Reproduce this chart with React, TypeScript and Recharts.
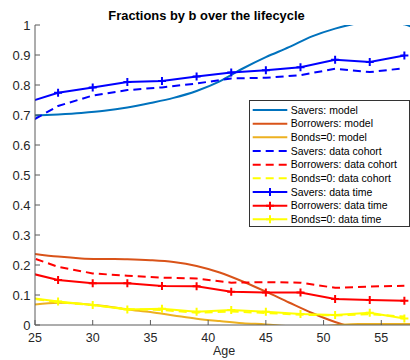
import React from 'react';
import { LineChart, Line, XAxis, YAxis, Legend, Customized } from 'recharts';

// ---------- data ----------
const modelAges = [25, 27, 29, 31, 33, 35, 37, 39, 41, 43, 45, 47, 49, 51, 53, 55, 57, 59];
const saversModel = [0.698, 0.702, 0.707, 0.714, 0.725, 0.74, 0.757, 0.78, 0.812, 0.855, 0.893, 0.926, 0.962, 0.988, 1.006, 1.013, 1.002, 0.97];
const borrowersModel = [0.237, 0.228, 0.222, 0.22, 0.219, 0.216, 0.21, 0.197, 0.175, 0.145, 0.111, 0.075, 0.04, 0.01, -0.012, -0.02, -0.004, 0.03];
const bondsModel = [0.068, 0.074, 0.071, 0.063, 0.052, 0.043, 0.032, 0.021, 0.013, 0.006, 0.002, -0.004, -0.006, -0.001, 0.003, 0.003, 0.003, 0.003];

const dataAges = [24, 27, 30, 33, 36, 39, 42, 45, 48, 51, 54, 57];
const saversCohort = [0.665, 0.73, 0.765, 0.783, 0.792, 0.805, 0.822, 0.824, 0.833, 0.854, 0.843, 0.856];
const borrowersCohort = [0.234, 0.194, 0.172, 0.164, 0.158, 0.155, 0.141, 0.143, 0.141, 0.124, 0.128, 0.131];
const bondsCohort = [0.092, 0.076, 0.066, 0.053, 0.05, 0.041, 0.045, 0.04, 0.034, 0.032, 0.036, 0.028];
const saversTime = [0.738, 0.774, 0.792, 0.81, 0.813, 0.828, 0.842, 0.849, 0.859, 0.884, 0.877, 0.898];
const borrowersTime = [0.178, 0.15, 0.139, 0.139, 0.13, 0.129, 0.111, 0.108, 0.108, 0.087, 0.083, 0.081];
const bondsTime = [0.094, 0.078, 0.067, 0.052, 0.054, 0.044, 0.05, 0.044, 0.037, 0.033, 0.041, 0.022];

const xTicks = [25, 30, 35, 40, 45, 50, 55];
const yTicks = [0, 0.1, 0.2, 0.3, 0.4, 0.5, 0.6, 0.7, 0.8, 0.9, 1];
const titleText = 'Fractions by b over the lifecycle';
const xLabelText = 'Age';

type Kind = 'model' | 'cohort' | 'time';
const seriesNames = [
  'Savers: model', 'Borrowers: model', 'Bonds=0: model',
  'Savers: data cohort', 'Borrowers: data cohort', 'Bonds=0: data cohort',
  'Savers: data time', 'Borrowers: data time', 'Bonds=0: data time',
];
const seriesColors = ['#0072BD', '#D95319', '#EDB120', '#0000FF', '#FF0000', '#FFFF00', '#0000FF', '#FF0000', '#FFFF00'];
const seriesKinds: Kind[] = ['model', 'model', 'model', 'cohort', 'cohort', 'cohort', 'time', 'time', 'time'];
const seriesAges = [modelAges, modelAges, modelAges, dataAges, dataAges, dataAges, dataAges, dataAges, dataAges];
const seriesValues = [saversModel, borrowersModel, bondsModel, saversCohort, borrowersCohort, bondsCohort, saversTime, borrowersTime, bondsTime];

const series = seriesNames.map((name, i) => ({
  name,
  color: seriesColors[i],
  kind: seriesKinds[i],
  data: seriesAges[i].map((x, j) => ({ x, y: seriesValues[i][j] })),
}));

// ---------- styles ----------
const FONT = '"Liberation Sans", Arial, Helvetica, sans-serif';
const AXIS = '#5a5a5a';
const TEXT = '#262626';
const CHART_W = 470;
const CHART_H = 360;
const MARGIN = { top: 25, right: 31, bottom: 0, left: 0 };
const Y_AXIS_W = 35;
const X_AXIS_H = 35;
const PLOT_LEFT = MARGIN.left + Y_AXIS_W;
const PLOT_TOP = MARGIN.top;
const PLOT_BOTTOM = CHART_H - MARGIN.bottom - X_AXIS_H;
const DASH = '8 5';

const fmtY = (v: number) => (v === 0 ? '0' : v === 1 ? '1' : v.toFixed(1));

const YTick = (p: any) => {
  const y = p.y;
  return (
    <g>
      <line x1={PLOT_LEFT} x2={PLOT_LEFT + 5} y1={y} y2={y} stroke={AXIS} strokeWidth={1} />
      <text x={PLOT_LEFT - 4.5} y={y} dy="0.36em" textAnchor="end" fontFamily={FONT} fontSize={13} fill={TEXT}>
        {fmtY(p.payload.value)}
      </text>
    </g>
  );
};

const XTickBottom = (p: any) => {
  const x = p.x;
  return (
    <g>
      <line x1={x} x2={x} y1={PLOT_BOTTOM} y2={PLOT_BOTTOM - 5} stroke={AXIS} strokeWidth={1} />
      <text x={x} y={PLOT_BOTTOM + 17} textAnchor="middle" fontFamily={FONT} fontSize={12.5} fill={TEXT}>
        {p.payload.value}
      </text>
    </g>
  );
};

const XTickTop = (p: any) => {
  const x = p.x;
  return <line x1={x} x2={x} y1={PLOT_TOP} y2={PLOT_TOP + 5} stroke={AXIS} strokeWidth={1} />;
};

const makePlus = (color: string) => (p: any) => {
  const { cx, cy, index } = p;
  if (cx == null || cy == null) return <g key={`e${index}`} />;
  return (
    <path
      key={`p${index}`}
      d={`M${cx - 4},${cy}h8M${cx},${cy - 4}v8`}
      stroke={color}
      strokeWidth={2}
      fill="none"
    />
  );
};

const LegendBox = () => {
  const rowH = 13.67;
  const w = 161;
  const h = 127;
  return (
    <svg width={w} height={h} style={{ display: 'block' }}>
      <rect x={0.5} y={0.5} width={w - 1} height={h - 1} fill="#fff" stroke="#333" strokeWidth={1} />
      {series.map((s, i) => {
        const cy = 10 + i * rowH;
        return (
          <g key={s.name}>
            <line
              x1={3.7}
              x2={38.3}
              y1={cy}
              y2={cy}
              stroke={s.color}
              strokeWidth={2}
              strokeDasharray={s.kind === 'cohort' ? DASH : undefined}
            />
            {s.kind === 'time' && (
              <path d={`M${21 - 4},${cy}h8M21,${cy - 4}v8`} stroke={s.color} strokeWidth={2} fill="none" />
            )}
            <text x={41.7} y={cy} dy="0.36em" fontFamily={FONT} fontSize={10.5} fill="#000">
              {s.name}
            </text>
          </g>
        );
      })}
    </svg>
  );
};

const Title = () => (
  <text x={206.5} y={20} textAnchor="middle" fontFamily={FONT} fontSize={12.9} fontWeight="bold" fill="#000">
    {titleText}
  </text>
);

const AgeLabel = () => (
  <text x={224} y={355} textAnchor="middle" fontFamily={FONT} fontSize={12.5} fill={TEXT}>
    {xLabelText}
  </text>
);

export default function App() {
  return (
    <div
      style={{
        position: 'fixed',
        left: 0,
        top: 0,
        width: 410,
        height: 360,
        overflow: 'hidden',
        background: '#fff',
      }}
    >
      <LineChart width={CHART_W} height={CHART_H} margin={MARGIN}>
        <XAxis
          dataKey="x"
          type="number"
          domain={[25, 60]}
          ticks={xTicks}
          allowDataOverflow
          height={X_AXIS_H}
          axisLine={{ stroke: AXIS, strokeWidth: 1 }}
          tickLine={false}
          tick={<XTickBottom />}
          interval={0}
        />
        <XAxis
          xAxisId="top"
          orientation="top"
          dataKey="x"
          type="number"
          domain={[25, 60]}
          ticks={xTicks}
          allowDataOverflow
          height={0}
          axisLine={{ stroke: AXIS, strokeWidth: 1 }}
          tickLine={false}
          tick={<XTickTop />}
          interval={0}
        />
        <YAxis
          type="number"
          domain={[0, 1]}
          ticks={yTicks}
          allowDataOverflow
          width={Y_AXIS_W}
          axisLine={{ stroke: AXIS, strokeWidth: 1 }}
          tickLine={false}
          tick={<YTick />}
          interval={0}
        />
        {series.map((s) => (
          <Line
            key={s.name}
            name={s.name}
            data={s.data}
            dataKey="y"
            type={s.kind === 'model' ? 'monotone' : 'linear'}
            stroke={s.color}
            strokeWidth={2}
            strokeDasharray={s.kind === 'cohort' ? DASH : undefined}
            dot={s.kind === 'time' ? makePlus(s.color) : false}
            activeDot={false}
            isAnimationActive={false}
          />
        ))}
        <Legend
          layout="vertical"
          align="center"
          verticalAlign="middle"
          content={<LegendBox />}
          wrapperStyle={{ left: 249, top: 100, width: 161, height: 127, right: 'auto', bottom: 'auto' }}
        />
        <Customized component={<Title />} />
        <Customized component={<AgeLabel />} />
      </LineChart>
    </div>
  );
}
